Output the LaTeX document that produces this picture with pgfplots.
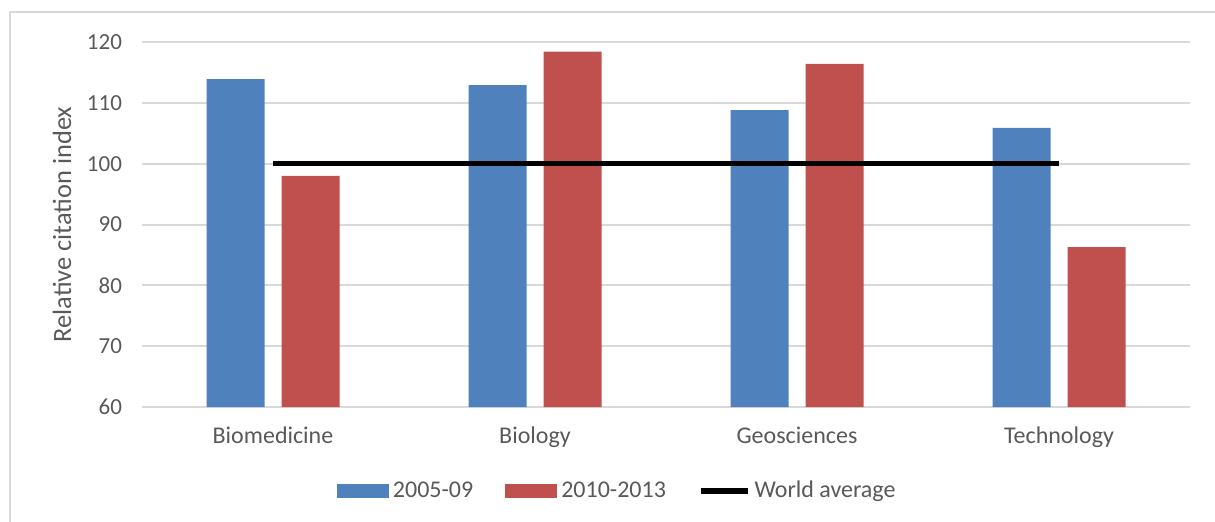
\documentclass[border=0pt]{standalone}
\usepackage{pgfplots}
\pgfplotsset{compat=1.18}
\usepackage{fontspec}
\setmainfont{Carlito}
\definecolor{cblue}{HTML}{4F81BD}
\definecolor{cred}{HTML}{C0504D}
\definecolor{ctext}{HTML}{595959}
\definecolor{cgrid}{HTML}{D9D9D9}
\begin{document}
\begin{tikzpicture}[x=0.5pt,y=0.5pt]
\fontsize{11.5}{14}\selectfont
\draw[cgrid, line width=1pt] (9.5,-10) -- (9.5,508.5) -- (1230,508.5);
\begin{axis}[
  at={(71pt,57pt)}, anchor=south west,
  scale only axis, width=524pt, height=182.5pt,
  xmin=-0.5, xmax=3.5, ymin=60, ymax=120,
  ytick={60,70,80,90,100,110,120},
  xtick={0,1,2,3},
  xticklabels={Biomedicine,Biology,Geosciences,Technology},
  major tick length=0pt,
  axis line style={draw=none},
  ymajorgrids, grid style={cgrid, line width=1pt},
  tick label style={font=\fontsize{11.5}{14}\selectfont, text=ctext},
  /pgf/number format/assume math mode=true,
  yticklabel style={xshift=-6pt},
  xticklabel style={yshift=-6pt, font=\fontsize{12}{14}\selectfont},
  every axis y label/.style={at={(axis description cs:-0.0763,0.5)}, rotate=90, anchor=center},
  ylabel={Relative citation index},
  label style={font=\fontsize{13.2}{15}\selectfont, text=ctext},
  legend columns=3,
  legend style={at={(0.186,-0.230)}, anchor=west, draw=none, fill=none, inner sep=0pt, outer sep=0pt,
    font=\fontsize{12}{14}\selectfont, text=ctext,
    nodes={inner sep=1pt},
    /tikz/every even column/.append style={column sep=15pt}},
  clip=true,
]
\addplot[ybar, bar width=29pt, bar shift=-18.75pt, fill=cblue, draw=none,
  legend image code/.code={\fill[cblue, draw=none] (0pt,-3.5pt) rectangle (26pt,3.5pt); \path[draw=none, fill=none] (27pt,0pt);}]
  coordinates {(0,113.9) (1,112.9) (2,108.8) (3,105.9)};
\addlegendentry{2005-09}
\addplot[ybar, bar width=29pt, bar shift=18.75pt, fill=cred, draw=none,
  legend image code/.code={\fill[cred, draw=none] (0pt,-3.5pt) rectangle (26pt,3.5pt); \path[draw=none, fill=none] (27pt,0pt);}]
  coordinates {(0,98.0) (1,118.4) (2,116.4) (3,86.3)};
\addlegendentry{2010-2013}
\addplot[black, line width=2.7pt, mark=none, sharp plot,
  legend image code/.code={\draw[black, line width=2.6pt] (1pt,0pt) -- (24.5pt,0pt); \path[draw=none, fill=none] (27pt,-3.5pt) rectangle (0pt,3.5pt);}]
  coordinates {(0,100) (3,100)};
\addlegendentry{World average}
\end{axis}
\pgfresetboundingbox
\useasboundingbox (0,0) rectangle (1215,521);
\end{tikzpicture}
\end{document}
